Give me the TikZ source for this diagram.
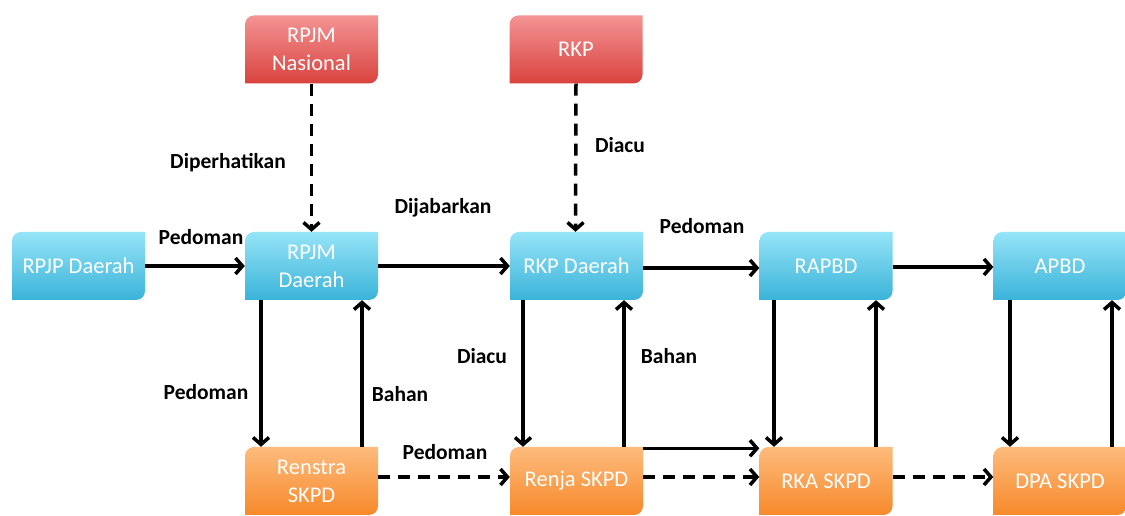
\documentclass[tikz,border=0pt]{standalone}
\usepackage{fontspec}
\setmainfont{Carlito}
\usetikzlibrary{arrows.meta}
\definecolor{bluetop}{HTML}{96E4F7}
\definecolor{bluebot}{HTML}{3AB3D9}
\definecolor{redtop}{HTML}{F39494}
\definecolor{redbot}{HTML}{D9423E}
\definecolor{orgtop}{HTML}{FDBB7D}
\definecolor{orgbot}{HTML}{F7892A}
\tikzset{
  boxtext/.style={minimum width=133pt, minimum height=68pt, inner sep=0pt,
    text=white, align=center, font=\fontsize{22.5}{28}\selectfont},
  lab/.style={inner sep=0pt, font=\bfseries\fontsize{21.5}{24}\selectfont},
  arr/.style={line width=3.5pt, -{Straight Barb[length=7pt,width=16pt]}},
  dsh/.style={arr, dash pattern=on 12pt off 8pt},
}
\newcommand{\dbox}[5]{%
  \shade[top color=#4top, bottom color=#4bot]
    ({#2-66.5},{516-#3-34}) -- ({#2-66.5},{516-#3+34-9})
    arc[start angle=180,end angle=90,radius=9]
    -- ({#2+66.5},{516-#3+34}) -- ({#2+66.5},{516-#3-34+9})
    arc[start angle=0,end angle=-90,radius=9] -- cycle;
  \node[boxtext] (#1) at (#2,{516-#3}) {#5};
}
\begin{document}
\begin{tikzpicture}[x=1pt,y=1pt]
\useasboundingbox (0,0) rectangle (1125,516);
\clip (0,0) rectangle (1125,516);
\fill[white] (0,0) rectangle (1125,516);

\dbox{nas}{311.5}{49.5}{red}{RPJM\\Nasional}
\dbox{rkp}{576}{49.5}{red}{RKP}
\dbox{rpjp}{78.5}{266}{blue}{RPJP Daerah}
\dbox{rpjmd}{311.5}{266}{blue}{RPJM\\Daerah}
\dbox{rkpd}{576.5}{266}{blue}{RKP Daerah}
\dbox{rapbd}{826}{266}{blue}{RAPBD}
\dbox{apbd}{1060}{266}{blue}{APBD}
\dbox{renstra}{311.5}{481}{org}{Renstra\\SKPD}
\dbox{renja}{576.5}{481}{org}{Renja SKPD}
\dbox{rka}{826}{481}{org}{RKA SKPD}
\dbox{dpa}{1060}{481}{org}{DPA SKPD}

% horizontal top row
\draw[arr] (rpjp.east) -- (rpjmd.west);
\draw[arr] (rpjmd.east) -- (rkpd.west);
\draw[arr] ([yshift=-2]rkpd.east) -- ([yshift=-2]rapbd.west);
\draw[arr] ([yshift=-1]rapbd.east) -- ([yshift=-1]apbd.west);

% dashed from national
\draw[dsh] (nas.south) -- (rpjmd.north);
\draw[dsh] (rkp.south) -- ([xshift=-1]rkpd.north);

% verticals
\draw[arr] ([xshift=-50.5]rpjmd.south) -- ([xshift=-50.5]renstra.north);
\draw[arr] ([xshift=50.5]renstra.north) -- ([xshift=50.5]rpjmd.south);
\draw[arr] ([xshift=-53.5]rkpd.south) -- ([xshift=-53.5]renja.north);
\draw[arr] ([xshift=47.5]renja.north) -- ([xshift=47.5]rkpd.south);
\draw[arr] ([xshift=-52]rapbd.south) -- ([xshift=-52]rka.north);
\draw[arr] ([xshift=50]rka.north) -- ([xshift=50]rapbd.south);
\draw[arr] ([xshift=-50]apbd.south) -- ([xshift=-50]dpa.north);
\draw[arr] ([xshift=52]dpa.north) -- ([xshift=52]apbd.south);

% bottom row
\draw[dsh] ([yshift=4]renstra.east) -- ([yshift=4]renja.west);
\draw[arr] ([yshift=-1.5]renja.north east) -- ([yshift=-1.5]rka.north west);
\draw[dsh] ([yshift=4]renja.east) -- ([yshift=4]rka.west);
\draw[dsh] ([yshift=4]rka.east) -- ([yshift=4]dpa.west);

% labels
\node[lab] (l1) at (201,{516-237}) {Pedoman};
\node[lab] (l2) at (228,{516-163}) {Diperhatikan};
\node[lab] (l3) at (443,{516-208}) {Dijabarkan};
\node[lab] (l4) at (620,{516-145}) {Diacu};
\node[lab] (l5) at (702,{516-226}) {Pedoman};
\node[lab] (l6) at (206,{516-392}) {Pedoman};
\node[lab] (l7) at (400,{516-394}) {Bahan};
\node[lab] (l8) at (445,{516-452}) {Pedoman};
\node[lab] (l9) at (482,{516-356}) {Diacu};
\node[lab] (l10) at (669,{516-356}) {Bahan};
\end{tikzpicture}
\end{document}
